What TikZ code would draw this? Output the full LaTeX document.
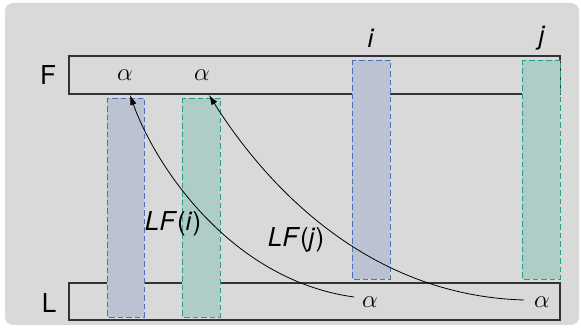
\documentclass[tikz,border=0pt]{standalone}
\usepackage{fontspec}
\setmainfont{TeX Gyre Heros}
\usetikzlibrary{arrows.meta}
\definecolor{bgray}{HTML}{D9D9D9}
\definecolor{bluefill}{HTML}{BBC3D3}
\definecolor{blueedge}{HTML}{4D6FC0}
\definecolor{greenfill}{HTML}{AECDC6}
\definecolor{greenedge}{HTML}{2AA08A}
\definecolor{rectline}{HTML}{333333}
\tikzset{
  rowbox/.style={draw=rectline, line width=1.2pt},
  bluebar/.style={fill=bluefill, draw=blueedge, dashed, dash pattern=on 5.5pt off 3pt, line width=0.9pt},
  greenbar/.style={fill=greenfill, draw=greenedge, dashed, dash pattern=on 5.5pt off 3pt, line width=0.9pt},
  lab/.style={font=\fontsize{26}{30}\selectfont, inner sep=0pt},
  lfarrow/.style={line width=0.8pt, -{Latex[length=10pt,width=6.5pt]}}
}
\begin{document}
\begin{tikzpicture}[x=1pt,y=-1pt]
\useasboundingbox (0,0) rectangle (581,328);
\fill[white] (0,0) rectangle (581,328);
\fill[bgray, rounded corners=8pt] (5,3) rectangle (579,325);
% rows
\draw[rowbox] (69,56) rectangle (560,94);
\draw[rowbox] (69,283) rectangle (560,320);
% bars
\draw[bluebar] (107,98) rectangle (144,317);
\draw[greenbar] (182,98) rectangle (220,317);
\draw[bluebar] (352,60) rectangle (390,279);
\draw[greenbar] (522,60) rectangle (560,279);
% labels
\node[lab] (F) at (48,75) {F};
\node[lab] (L) at (49,303) {L};
\node[lab] (i) at (371,38) {\textit{i}};
\node[lab] (j) at (542,38) {\textit{j}};
\node[lab] (fa1) at (125,75) {$\alpha$};
\node[lab] (fa2) at (202,75) {$\alpha$};
\node[lab] (la1) at (370,302) {$\alpha$};
\node[lab] (la2) at (542,302) {$\alpha$};
\node[lab] (lfi) at (173,224) {\textit{LF}(\textit{i})};
\node[lab] (lfj) at (296,240) {\textit{LF}(\textit{j})};
% arrows
\coordinate (s1) at (354,297);
\coordinate (e1) at (130,95);
\coordinate (s2) at (524,300);
\coordinate (e2) at (209,95);
\draw[lfarrow] (s1) .. controls (230,280) and (155,165) .. (e1);
\draw[lfarrow] (s2) .. controls (350,295) and (250,160) .. (e2);
\end{tikzpicture}
\end{document}
